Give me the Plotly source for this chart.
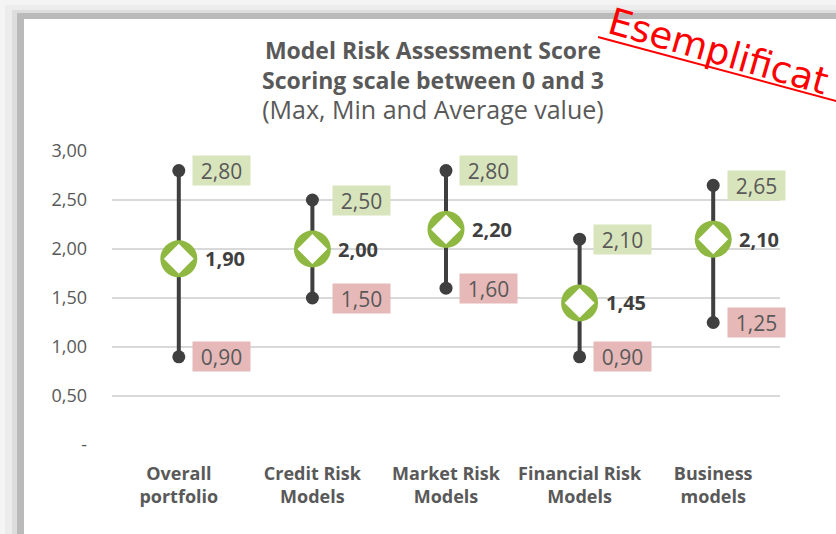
import plotly.graph_objects as go

# Scores per model family
categories = ["Overall<br>portfolio", "Credit Risk<br>Models", "Market Risk<br>Models",
              "Financial Risk<br>Models", "Business<br>models"]
max_vals = [2.80, 2.50, 2.80, 2.10, 2.65]
min_vals = [0.90, 1.50, 1.60, 0.90, 1.25]
avg_vals = [1.90, 2.00, 2.20, 1.45, 2.10]

tick_vals = [0, 0.5, 1.0, 1.5, 2.0, 2.5, 3.0]
tick_text = ["-", "0,50", "1,00", "1,50", "2,00", "2,50", "3,00"]

# horizontal offsets (px) of the value boxes from each whisker
box_shift = [13, 20, 13, 13, 14]

W, H = 836, 534
L, R, T, B = 112, 56, 151, 89
PW, PH = W - L - R, H - T - B

GREY_TXT = "#595959"
DARK = "#3f3f3f"
GREEN = "#8fb843"
FONT = "Open Sans"


def fmt(v):
    return f"{v:.2f}".replace(".", ",")


def px(x):
    return (x - L) / PW


def py(y):
    return (H - B - y) / PH


fig = go.Figure()

# whiskers from min to max
wx, wy = [], []
for c, lo, hi in zip(categories, min_vals, max_vals):
    wx += [c, c, None]
    wy += [lo, hi, None]
fig.add_trace(go.Scatter(x=wx, y=wy, mode="lines",
                         line=dict(color=DARK, width=4), hoverinfo="skip"))

# end dots
fig.add_trace(go.Scatter(x=categories + categories, y=max_vals + min_vals, mode="markers",
                         marker=dict(color=DARK, size=13, line=dict(width=0))))

# average: green disc with white diamond
fig.add_trace(go.Scatter(x=categories, y=avg_vals, mode="markers",
                         marker=dict(color=GREEN, size=37, symbol="circle", line=dict(width=0))))
fig.add_trace(go.Scatter(x=categories, y=avg_vals, mode="markers",
                         marker=dict(color="white", size=23, symbol="diamond", line=dict(width=0))))

annotations = []
for c, hi, lo, av, sh in zip(categories, max_vals, min_vals, avg_vals, box_shift):
    annotations.append(dict(x=c, y=hi, xref="x", yref="y", text=fmt(hi), showarrow=False,
                            xanchor="left", yanchor="middle", xshift=sh, width=57, height=29,
                            borderpad=0, bgcolor="#d8e4bc", align="center",
                            font=dict(family=FONT, size=21, color=GREY_TXT)))
    annotations.append(dict(x=c, y=lo, xref="x", yref="y", text=fmt(lo), showarrow=False,
                            xanchor="left", yanchor="middle", xshift=sh, width=57, height=29,
                            borderpad=0, bgcolor="#e6b9b8", align="center",
                            font=dict(family=FONT, size=21, color=GREY_TXT)))
    annotations.append(dict(x=c, y=av, xref="x", yref="y", text="<b>" + fmt(av) + "</b>",
                            showarrow=False, xanchor="left", yanchor="middle", xshift=24,
                            font=dict(family=FONT, size=20, color=DARK)))

# three-line title
title_text = ("<b>Model Risk Assessment Score</b><br>"
              "<b>Scoring scale between 0 and 3</b><br>"
              "<span style='font-size:25px'>(Max, Min and Average value)</span>")
annotations.append(dict(x=px(433), y=py(80), xref="paper", yref="paper", text=title_text,
                        showarrow=False, xanchor="center", yanchor="middle", align="center",
                        font=dict(family=FONT, size=23, color=GREY_TXT)))

# red stamp
annotations.append(dict(x=px(718), y=py(52), xref="paper", yref="paper", text="Esemplificat",
                        showarrow=False, xanchor="center", yanchor="middle", textangle=16,
                        font=dict(family="DejaVu Sans", size=37, color="#ff0000")))

# card frame with soft shadow
shapes = []
for x0, y0, col in [(5, 5, "#ececec"), (12, 10, "#dddddd"), (17, 13, "#bababa"), (24, 19, "#ffffff")]:
    shapes.append(dict(type="rect", xref="paper", yref="paper", x0=px(x0), x1=px(W + 5),
                       y0=py(H + 5), y1=py(y0), fillcolor=col, line=dict(width=0), layer="below"))
shapes.append(dict(type="line", xref="paper", yref="paper", x0=px(598), y0=py(37),
                   x1=px(840), y1=py(102), line=dict(color="#ff0000", width=2)))

fig.update_layout(
    width=W, height=H,
    margin=dict(l=L, r=R, t=T, b=B),
    paper_bgcolor="#f4f4f4", plot_bgcolor="rgba(0,0,0,0)",
    showlegend=False,
    annotations=annotations, shapes=shapes,
    xaxis=dict(type="category", categoryorder="array", categoryarray=categories,
               range=[-0.5, 4.5],
               showgrid=False, zeroline=False, showline=False, ticks="",
               tickfont=dict(family=FONT, size=18, color=GREY_TXT),
               ticklabelstandoff=16),
    yaxis=dict(range=[0, 3], tickvals=tick_vals, ticktext=tick_text,
               showgrid=True, gridcolor="#d9d9d9", gridwidth=1.5, zeroline=False,
               showline=False, ticks="", ticklabelstandoff=24,
               tickfont=dict(family=FONT, size=18, color=GREY_TXT)),
)
fig.update_xaxes(tickprefix="<b>", ticksuffix="</b>")

fig.write_html("out.html")
